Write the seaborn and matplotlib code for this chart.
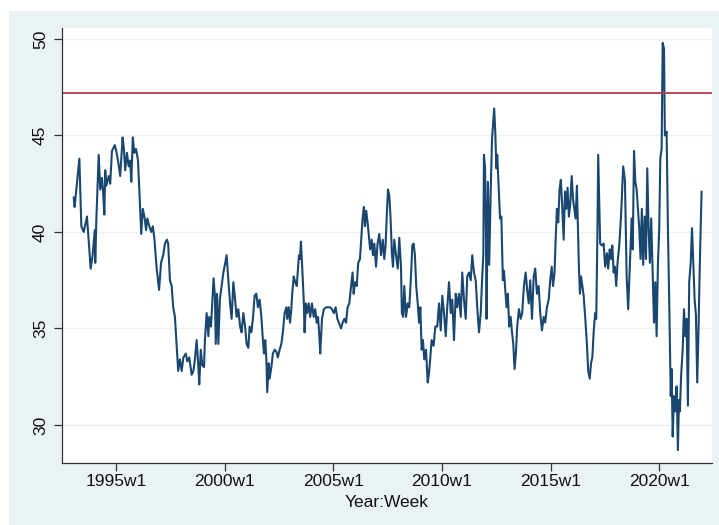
import matplotlib
matplotlib.use("Agg")
import matplotlib.pyplot as plt
import seaborn as sns
import pandas as pd
from matplotlib.patches import Rectangle

# Weekly series (time as fractional year, value)
years = [
    1993.04, 1993.08, 1993.30, 1993.39, 1993.50, 1993.65, 1993.73, 1993.82, 1993.91, 1994.01,
    1994.03, 1994.08, 1994.19, 1994.26, 1994.34, 1994.39, 1994.45, 1994.49, 1994.54, 1994.65,
    1994.72, 1994.80, 1994.93, 1995.00, 1995.08, 1995.18, 1995.29, 1995.35, 1995.41, 1995.49,
    1995.57, 1995.64, 1995.69, 1995.76, 1995.83, 1995.91, 1996.00, 1996.06, 1996.12, 1996.15,
    1996.22, 1996.31, 1996.37, 1996.43, 1996.52, 1996.61, 1996.68, 1996.75, 1996.86, 1996.97,
    1997.06, 1997.16, 1997.24, 1997.33, 1997.39, 1997.47, 1997.55, 1997.62, 1997.70, 1997.78,
    1997.85, 1997.93, 1998.01, 1998.09, 1998.20, 1998.27, 1998.36, 1998.47, 1998.55, 1998.62,
    1998.70, 1998.78, 1998.82, 1998.89, 1998.96, 1999.04, 1999.08, 1999.16, 1999.24, 1999.28,
    1999.36, 1999.42, 1999.48, 1999.54, 1999.58, 1999.64, 1999.70, 1999.77, 1999.85, 1999.93,
    2000.00, 2000.08, 2000.16, 2000.24, 2000.31, 2000.39, 2000.47, 2000.54, 2000.62, 2000.70,
    2000.77, 2000.85, 2000.93, 2001.00, 2001.08, 2001.14, 2001.22, 2001.29, 2001.37, 2001.45,
    2001.52, 2001.60, 2001.68, 2001.75, 2001.80, 2001.86, 2001.91, 2001.95, 2002.02, 2002.06,
    2002.14, 2002.21, 2002.29, 2002.37, 2002.44, 2002.52, 2002.60, 2002.68, 2002.75, 2002.83,
    2002.87, 2002.94, 2003.00, 2003.06, 2003.10, 2003.17, 2003.24, 2003.31, 2003.37, 2003.41,
    2003.46, 2003.50, 2003.56, 2003.63, 2003.67, 2003.73, 2003.79, 2003.86, 2003.93, 2004.01,
    2004.09, 2004.16, 2004.23, 2004.29, 2004.35, 2004.39, 2004.47, 2004.56, 2004.67, 2004.75,
    2004.84, 2004.93, 2005.02, 2005.10, 2005.18, 2005.25, 2005.35, 2005.42, 2005.50, 2005.58,
    2005.65, 2005.73, 2005.81, 2005.88, 2005.93, 2005.99, 2006.07, 2006.14, 2006.22, 2006.30,
    2006.34, 2006.40, 2006.45, 2006.51, 2006.57, 2006.63, 2006.69, 2006.76, 2006.82, 2006.88,
    2006.96, 2007.03, 2007.11, 2007.19, 2007.27, 2007.34, 2007.40, 2007.46, 2007.51, 2007.57,
    2007.63, 2007.69, 2007.74, 2007.80, 2007.88, 2007.96, 2008.03, 2008.11, 2008.15, 2008.21,
    2008.26, 2008.34, 2008.42, 2008.49, 2008.57, 2008.63, 2008.69, 2008.75, 2008.81, 2008.88,
    2008.94, 2009.00, 2009.06, 2009.12, 2009.18, 2009.26, 2009.34, 2009.40, 2009.46, 2009.52,
    2009.61, 2009.69, 2009.78, 2009.86, 2009.94, 2010.01, 2010.09, 2010.17, 2010.24, 2010.32,
    2010.40, 2010.47, 2010.55, 2010.63, 2010.70, 2010.78, 2010.86, 2010.93, 2011.01, 2011.09,
    2011.16, 2011.24, 2011.32, 2011.39, 2011.47, 2011.55, 2011.62, 2011.70, 2011.78, 2011.85,
    2011.90, 2011.93, 2011.98, 2012.02, 2012.05, 2012.11, 2012.17, 2012.24, 2012.30, 2012.36,
    2012.40, 2012.45, 2012.50, 2012.54, 2012.61, 2012.67, 2012.73, 2012.77, 2012.80, 2012.85,
    2012.91, 2012.97, 2013.03, 2013.09, 2013.16, 2013.22, 2013.28, 2013.34, 2013.40, 2013.46,
    2013.54, 2013.62, 2013.69, 2013.77, 2013.85, 2013.92, 2013.99, 2014.06, 2014.14, 2014.22,
    2014.29, 2014.37, 2014.45, 2014.52, 2014.60, 2014.68, 2014.75, 2014.83, 2014.91, 2014.98,
    2015.05, 2015.11, 2015.18, 2015.23, 2015.29, 2015.35, 2015.41, 2015.47, 2015.53, 2015.60,
    2015.66, 2015.72, 2015.78, 2015.84, 2015.90, 2015.97, 2016.03, 2016.09, 2016.15, 2016.21,
    2016.26, 2016.30, 2016.35, 2016.40, 2016.46, 2016.52, 2016.59, 2016.67, 2016.73, 2016.80,
    2016.86, 2016.92, 2016.98, 2017.05, 2017.10, 2017.15, 2017.19, 2017.24, 2017.28, 2017.36,
    2017.44, 2017.51, 2017.59, 2017.65, 2017.72, 2017.78, 2017.84, 2017.90, 2017.96, 2018.02,
    2018.08, 2018.16, 2018.24, 2018.34, 2018.42, 2018.50, 2018.57, 2018.65, 2018.73, 2018.78,
    2018.84, 2018.90, 2018.96, 2019.02, 2019.08, 2019.14, 2019.20, 2019.26, 2019.33, 2019.39,
    2019.45, 2019.51, 2019.57, 2019.63, 2019.70, 2019.76, 2019.82, 2019.88, 2019.94, 2020.00,
    2020.05, 2020.11, 2020.16, 2020.22, 2020.26, 2020.34, 2020.40, 2020.46, 2020.53, 2020.57,
    2020.62, 2020.68, 2020.74, 2020.80, 2020.86, 2020.91, 2020.95, 2021.01, 2021.08, 2021.14,
    2021.20, 2021.26, 2021.32, 2021.38, 2021.45, 2021.51, 2021.57, 2021.63, 2021.69, 2021.75,
    2021.81, 2021.87, 2021.95,
]
values = [
    41.8, 41.3, 43.8, 40.3, 40.0, 40.8, 39.5, 38.1, 38.8, 40.1,
    38.4, 40.6, 44.0, 42.2, 42.8, 42.1, 40.9, 43.2, 42.4, 42.9,
    42.5, 44.2, 44.5, 44.2, 43.7, 42.9, 44.9, 44.3, 43.2, 44.1,
    43.4, 43.7, 42.6, 44.9, 44.1, 44.3, 43.7, 42.2, 40.8, 39.9,
    41.2, 40.7, 40.1, 40.7, 40.3, 40.0, 40.3, 39.7, 38.1, 37.0,
    38.4, 38.8, 39.4, 39.6, 39.4, 37.5, 37.2, 36.1, 35.6, 34.1,
    32.8, 33.4, 32.8, 33.5, 33.7, 33.3, 33.5, 32.6, 32.8, 33.4,
    34.4, 33.0, 32.1, 33.9, 33.1, 33.0, 34.4, 35.8, 34.6, 35.6,
    35.1, 36.3, 37.6, 36.7, 34.2, 36.8, 34.2, 36.5, 37.2, 37.9,
    38.3, 38.8, 37.5, 36.3, 35.5, 37.4, 36.5, 35.6, 36.0, 35.1,
    34.8, 35.8, 35.1, 34.2, 34.0, 35.1, 34.8, 35.5, 36.7, 36.8,
    36.1, 36.5, 35.6, 34.4, 33.7, 34.4, 33.4, 31.7, 33.2, 32.4,
    33.0, 33.7, 33.9, 33.8, 33.5, 33.9, 34.2, 34.9, 35.8, 36.1,
    35.5, 36.1, 35.3, 36.0, 36.8, 37.7, 37.4, 37.2, 38.2, 38.8,
    38.6, 39.5, 38.2, 36.5, 34.8, 36.3, 35.8, 36.3, 35.6, 36.3,
    35.6, 36.0, 35.3, 35.6, 34.6, 33.7, 35.5, 36.0, 36.1, 36.1,
    36.1, 36.0, 35.8, 36.1, 35.5, 35.3, 35.0, 35.3, 35.5, 35.3,
    36.1, 36.3, 37.2, 37.9, 36.8, 37.4, 37.2, 38.4, 38.6, 40.0,
    40.7, 41.3, 40.3, 41.1, 40.5, 39.8, 39.1, 39.6, 38.8, 39.4,
    38.2, 39.4, 39.9, 38.8, 39.6, 38.6, 39.3, 41.0, 42.2, 41.9,
    40.7, 38.9, 38.2, 39.6, 38.8, 38.1, 39.7, 38.2, 35.8, 35.6,
    37.2, 35.6, 36.3, 36.1, 37.7, 39.3, 39.4, 38.8, 37.2, 36.3,
    35.3, 36.1, 33.9, 34.4, 33.4, 33.9, 32.2, 32.7, 33.5, 34.4,
    34.1, 35.1, 35.1, 36.3, 34.9, 36.7, 35.8, 34.6, 36.1, 37.4,
    35.8, 36.5, 34.4, 36.8, 36.1, 36.8, 35.6, 37.9, 36.5, 35.5,
    37.7, 37.9, 37.5, 38.8, 37.9, 37.5, 36.1, 34.8, 35.8, 37.7,
    38.8, 44.0, 43.3, 40.0, 35.5, 42.6, 38.3, 42.1, 44.8, 45.8,
    46.4, 45.2, 43.3, 44.0, 42.2, 40.7, 40.8, 38.8, 37.5, 38.0,
    37.0, 36.1, 36.8, 35.1, 35.6, 34.8, 34.2, 32.9, 33.7, 35.1,
    36.0, 35.5, 35.8, 37.2, 37.9, 37.0, 36.3, 37.5, 35.5, 37.7,
    38.1, 36.8, 37.2, 35.8, 34.9, 35.6, 35.3, 36.1, 36.5, 37.5,
    38.2, 37.2, 37.9, 39.6, 41.2, 40.5, 42.2, 42.7, 41.4, 39.6,
    42.1, 41.2, 42.3, 40.8, 41.4, 42.9, 41.7, 41.2, 40.7, 42.4,
    40.0, 38.2, 36.8, 37.7, 37.2, 36.7, 35.6, 34.2, 32.8, 32.4,
    33.2, 33.5, 34.8, 35.8, 35.5, 39.6, 44.0, 41.4, 39.4, 39.3,
    39.4, 38.2, 38.9, 38.1, 39.1, 38.6, 39.3, 37.9, 38.2, 37.2,
    38.4, 39.3, 40.8, 43.4, 42.7, 37.7, 36.0, 38.4, 40.7, 39.1,
    44.2, 42.6, 42.2, 41.2, 40.2, 38.6, 41.2, 38.3, 40.8, 38.6,
    43.3, 40.2, 38.4, 40.7, 37.7, 35.3, 37.4, 34.6, 38.3, 40.2,
    43.8, 44.3, 49.8, 49.5, 45.0, 45.2, 40.2, 36.4, 31.5, 32.9,
    29.4, 31.5, 30.7, 32.0, 28.7, 31.3, 30.7, 32.6, 33.9, 36.0,
    34.6, 35.5, 31.0, 37.4, 38.4, 40.2, 38.4, 36.5, 35.7, 32.2,
    35.0, 38.4, 42.1,
]
threshold = 47.2

x_ticks = [1995, 2000, 2005, 2010, 2015, 2020]
x_tick_labels = ["1995w1", "2000w1", "2005w1", "2010w1", "2015w1", "2020w1"]
y_ticks = [30, 35, 40, 45, 50]

df = pd.DataFrame({"week": years, "value": values})

sns.set_style("white")
plt.rcParams["font.family"] = ["Liberation Sans", "DejaVu Sans"]

W, H = 719, 525
fig = plt.figure(figsize=(W / 100, H / 100), dpi=100)
fig.patch.set_facecolor("white")
# Stata-style outer graph region, kept behind the axes
bg = Rectangle((9 / W, 0), 1, 1 - 11 / H, transform=fig.transFigure,
               facecolor="#EAF2F3", edgecolor="none", zorder=-10)
fig.add_artist(bg)

ax = fig.add_axes([62 / W, 1 - 463 / H, 650 / W, 435 / H])
ax.set_zorder(1)
ax.set_facecolor("white")

sns.lineplot(data=df, x="week", y="value", ax=ax, color="#1A476F", linewidth=1.5,
             sort=False, estimator=None)
ax.axhline(threshold, color="#B5394E", linewidth=1.3)

ax.set_xlim(1992.5, 2022.43)
ax.set_ylim(28.03, 50.57)
ax.set_xticks(x_ticks)
ax.set_xticklabels(x_tick_labels)
ax.set_yticks(y_ticks)
ax.set_yticklabels([str(v) for v in y_ticks], rotation=90, va="center")

ax.grid(axis="y", color="#EAF2F3", linewidth=1)
ax.grid(axis="x", visible=False)
ax.set_axisbelow(True)

for side in ["top", "right"]:
    ax.spines[side].set_visible(False)
for side in ["left", "bottom"]:
    ax.spines[side].set_color("#333333")
    ax.spines[side].set_linewidth(0.9)

ax.tick_params(axis="both", direction="out", length=6, width=0.9, color="#333333",
               labelsize=12.5, labelcolor="#111111", bottom=True, left=True)
ax.tick_params(axis="x", pad=2)
ax.tick_params(axis="y", pad=4)

ax.set_xlabel("Year:Week", fontsize=12.5, color="#111111", labelpad=4)
ax.set_ylabel("")

fig.savefig("out.png", dpi=100)
